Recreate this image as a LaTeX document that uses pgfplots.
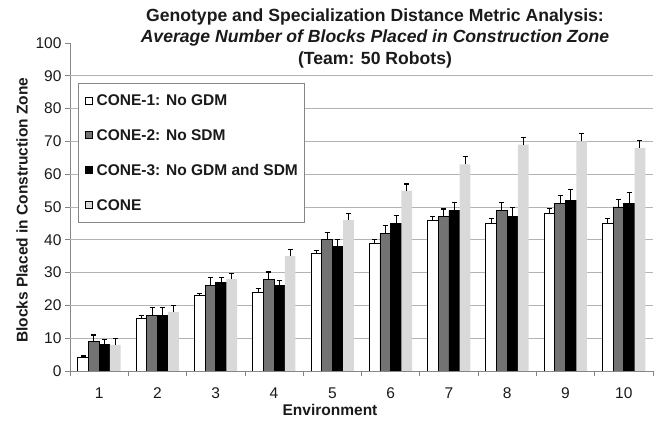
\documentclass[border=0pt]{standalone}
\usepackage{pgfplots}
\pgfplotsset{compat=1.18}
\usepackage{pgfplotstable}
\usepackage{fontspec}
\setmainfont{Liberation Sans}
\definecolor{axgray}{HTML}{868686}
\definecolor{gridgray}{HTML}{B3B3B3}
\definecolor{midgray}{HTML}{737373}
\definecolor{ltgray}{HTML}{D9D9D9}
\definecolor{txt}{HTML}{1A1A1A}

\pgfplotstableread{
x  w  we  g  ge  b  be  l  le
1  4  0.6  9  2.0  8  1.7  8  1.8
2  16 0.9  17 2.4  17 2.3  18 1.9
3  23 0.7  26 2.4  27 1.6  28 1.8
4  24 1.2  28 2.2  26 1.5  35 2.0
5  36 0.7  40 2.3  38 2.0  46 2.0
6  39 1.2  42 2.3  45 2.3  55 2.0
7  46 1.0  47 2.4  49 2.3  63 2.4
8  45 1.4  49 2.4  47 2.8  69 2.3
9  48 1.5  51 2.4  52 3.3  70 2.4
10 45 1.4  50 2.4  51 3.3  68 2.3
}\datatable

\begin{document}
\begin{tikzpicture}
\useasboundingbox (0,0) rectangle (659bp,421bp);
\begin{axis}[
  at={(70bp,50bp)}, anchor=south west,
  scale only axis, width=583bp, height=328bp,
  ybar=0pt, bar width=10.7bp,
  xmin=0.5, xmax=10.5, ymin=0, ymax=100,
  axis x line*=bottom, axis y line*=left,
  axis line style={axgray, line width=0.8bp},
  xtick={1,...,10},
  xtick style={draw=none},
  extra x ticks={0.5,1.5,...,10.5},
  extra x tick labels={},
  extra x tick style={xtick style={draw=axgray, line width=0.8bp}, major tick length=5bp, tick align=outside},
  ytick={0,10,...,100},
  ytick style={draw=axgray, line width=0.8bp},
  major tick length=5bp, tick align=outside,
  extra y ticks={10,20,...,90},
  extra y tick labels={},
  extra y tick style={ymajorgrids=true, major tick length=0pt},
  major grid style={gridgray, line width=0.8bp},
  /pgf/number format/assume math mode=true,
  tick label style={font=\fontsize{15.5bp}{17bp}\selectfont, text=txt},
  xticklabel style={yshift=-8bp},
  xlabel={Environment},
  ylabel={Blocks Placed in Construction Zone},
  every axis x label/.style={at={(rel axis cs:0.446,-0.119)}, anchor=center,
    font=\fontsize{15.5bp}{17bp}\selectfont\bfseries, text=txt},
  every axis y label/.style={at={(rel axis cs:-0.0823,0.49)}, rotate=90, anchor=center,
    font=\fontsize{15.5bp}{17bp}\selectfont\bfseries, text=txt},
  legend cell align=left,
  legend image code/.code={\path (0bp,0bp) (11bp,0bp); \draw[#1] (2bp,-3.5bp) rectangle (9bp,3.5bp);},
  legend style={at={(rel axis cs:0.0137,0.878)}, anchor=north west,
    draw=axgray, line width=0.8bp, fill=white,
    font=\fontsize{15.5bp}{17bp}\selectfont\bfseries, text=txt,
    row sep=18.5bp, inner xsep=5bp, inner ysep=9bp,
    nodes={inner xsep=1.5bp}},
  error bars/error bar style={black, line width=0.9bp},
  error bars/error mark options={black, line width=1.2bp, mark size=2.5bp, rotate=90},
]
\addplot[fill=white, draw=black, line width=0.8bp,
  error bars/.cd, y dir=plus, y explicit] table[x=x, y=w, y error=we] {\datatable};
\addplot[fill=midgray, draw=black, line width=0.8bp,
  error bars/.cd, y dir=plus, y explicit] table[x=x, y=g, y error=ge] {\datatable};
\addplot[fill=black, draw=black, line width=0.8bp,
  error bars/.cd, y dir=plus, y explicit] table[x=x, y=b, y error=be] {\datatable};
\addplot[fill=ltgray, draw=none,
  error bars/.cd, y dir=plus, y explicit] table[x=x, y=l, y error=le] {\datatable};
\legend{CONE-1: No GDM, CONE-2: No SDM, CONE-3: No GDM and SDM, CONE}
\end{axis}
\node[anchor=base, text=txt, font=\fontsize{17.6bp}{20bp}\selectfont\bfseries] at (375bp,399bp) {Genotype and Specialization Distance Metric Analysis:};
\node[anchor=base, text=txt, font=\fontsize{17.6bp}{20bp}\selectfont\bfseries\itshape] at (375bp,378bp) {Average Number of Blocks Placed in Construction Zone};
\node[anchor=base, text=txt, font=\fontsize{17.6bp}{20bp}\selectfont\bfseries] at (375bp,356bp) {(Team: 50 Robots)};
\end{tikzpicture}
\end{document}
